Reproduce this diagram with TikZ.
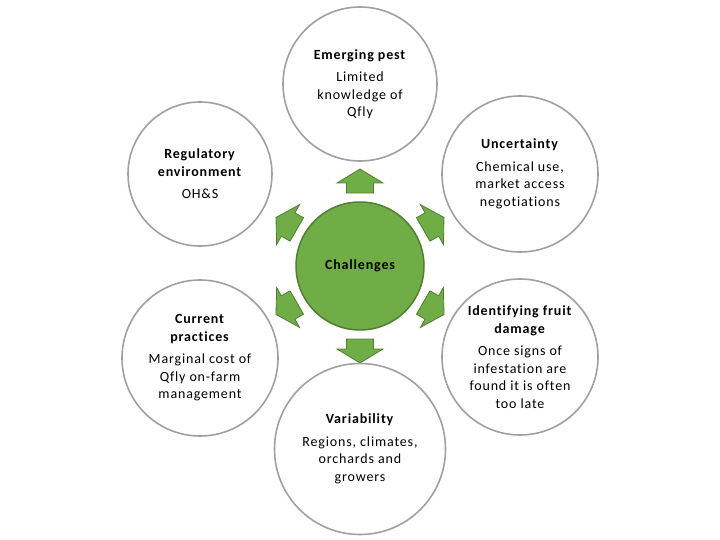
\documentclass[tikz,border=0pt]{standalone}
\usepackage{fontspec}
\setmainfont{Carlito}[LetterSpace=6,Ligatures=NoCommon]
\definecolor{hubgreen}{RGB}{112,173,71}
\definecolor{hubedge}{RGB}{80,126,50}
\definecolor{ringgray}{RGB}{160,160,160}
\begin{document}
\begin{tikzpicture}[x=1pt,y=-1pt,
  every node/.style={font=\fontsize{14}{17.5}\selectfont},
  outer/.style={circle,draw=ringgray,line width=1.6pt,fill=white,inner sep=0pt,align=center},
  blockarrow/.style={fill=hubgreen,draw=hubedge,line width=0.8pt,line join=miter}]
\useasboundingbox (0,0) rectangle (720,540);
\node[circle,fill=hubgreen,draw=hubedge,line width=1.5pt,minimum size=128pt,inner sep=0pt,font=\fontsize{14}{16}\selectfont\bfseries] (hub) at (360,266) {Challenges};
\foreach \a in {90,30,-30,-90,-150,150}
  \draw[blockarrow,shift={(hub.center)},rotate=\a] (73,-13.5) -- (83,-13.5) -- (83,-23) -- (97,0) -- (83,23) -- (83,13.5) -- (73,13.5) -- cycle;
\node[outer,minimum size=154pt] (pest) at (360,84) {\textbf{Emerging pest}\\[5pt] Limited\\ knowledge of\\ Qfly};
\node[outer,minimum size=156pt] (uncert) at (520,174) {\textbf{Uncertainty}\\[5pt] Chemical use,\\ market access\\ negotiations};
\node[outer,minimum size=156pt] (damage) at (520,357) {\textbf{Identifying fruit}\\ \textbf{damage}\\[5pt] Once signs of\\ infestation are\\ found it is often\\ too late};
\node[outer,minimum size=171pt] (vari) at (360,449) {\textbf{Variability}\\[5pt] Regions, climates,\\ orchards and\\ growers};
\node[outer,minimum size=156pt] (practice) at (200,358) {\textbf{Current}\\ \textbf{practices}\\[5pt] Marginal cost of\\ Qfly on-farm\\ management};
\node[outer,minimum size=144pt] (regul) at (200,174) {\textbf{Regulatory}\\ \textbf{environment}\\[5pt] OH\&S};
\end{tikzpicture}
\end{document}
